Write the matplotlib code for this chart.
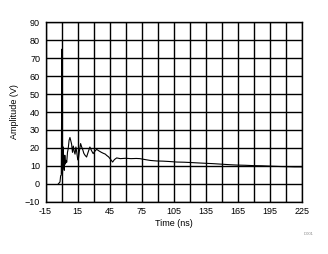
import numpy as np
import matplotlib
matplotlib.use('Agg')
import matplotlib.pyplot as plt

plt.rcParams['font.family'] = ['Liberation Sans', 'DejaVu Sans']

# time (ns) and amplitude (V)
time_ns = [-3, -2.2, -1.5, -0.9, -0.3, 0.0, 0.2, 0.4, 0.6, 0.8, 1.2, 1.6, 2.0,
           2.5, 3.0, 3.6, 4.2, 4.8, 5.5, 6.2, 7.0, 7.8, 8.6, 9.4, 10.2, 11.0,
           11.8, 12.6, 13.4, 14.2, 15.0, 15.6, 16.6, 17.8, 18.8, 19.8, 20.8,
           21.8, 23.4, 24.8, 26.5, 28.0, 29.6, 31.0, 32.8, 35.0, 37.0, 39.0,
           41.0, 42.2, 44.0, 46.0, 47.8, 49.5, 51.6, 55.0, 60.0, 65.0, 70.0,
           73.4, 78.0, 83.0, 89.0, 95.0, 101.0, 108.0, 115.0, 122.0, 128.0,
           135.0, 142.0, 150.0, 158.0, 165.0, 172.0, 180.0, 188.0, 196.0,
           205.0, 212.0, 218.0, 225.0]
amplitude = [0.0, 0.5, 1.0, 4.5, 4.8, 40.0, 75.0, 75.0, 40.0, 5.6, 12.0, 20.5,
             10.0, 7.5, 15.9, 11.0, 13.0, 12.0, 17.5, 19.6, 24.2, 25.8, 24.0,
             22.0, 17.5, 21.0, 18.0, 16.5, 20.5, 17.5, 14.0, 13.1, 18.0, 22.4,
             20.5, 19.0, 17.0, 16.0, 14.9, 17.5, 20.5, 18.5, 16.8, 18.0, 19.2,
             18.3, 17.6, 17.0, 16.5, 15.8, 15.0, 13.5, 12.1, 13.5, 14.4, 14.0,
             14.2, 14.0, 14.1, 14.0, 13.5, 13.0, 12.7, 12.6, 12.4, 12.1, 12.0,
             11.8, 11.6, 11.4, 11.2, 10.9, 10.6, 10.4, 10.3, 10.1, 10.0, 9.8,
             9.6, 9.5, 9.4, 9.4]

xticks = np.arange(-15, 226, 15)
yticks = np.arange(-10, 91, 10)

fig = plt.figure(figsize=(3.28, 2.54), dpi=100)
ax = fig.add_axes([0.139, 0.206, 0.781, 0.706])

ax.plot(time_ns, amplitude, color='black', linewidth=0.8)

ax.set_xlim(-15, 225)
ax.set_ylim(-10, 90)
ax.set_xticks(xticks)
ax.set_xticklabels([str(v) if i % 2 == 0 else '' for i, v in enumerate(xticks)])
ax.set_yticks(yticks)
ax.grid(True, color='black', linewidth=1.0)
ax.tick_params(length=0, labelsize=6.5, pad=4)
for s in ax.spines.values():
    s.set_linewidth(1.0)

ax.set_xlabel('Time (ns)', fontsize=6.5, labelpad=2)
ax.set_ylabel('Amplitude (V)', fontsize=6.5, labelpad=4)

fig.text(0.955, 0.075, 'D001', fontsize=3, color='#888888', ha='right')

fig.savefig('out.png', dpi=100)
